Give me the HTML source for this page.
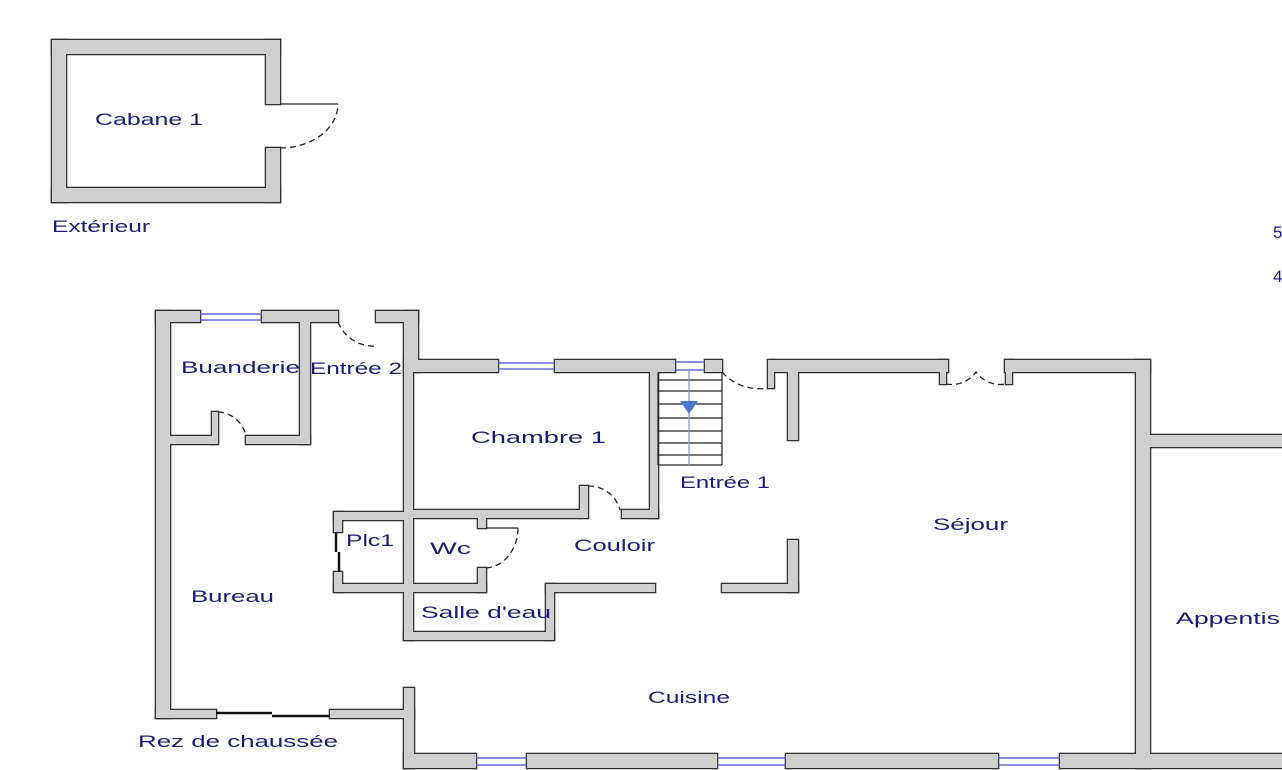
<!DOCTYPE html>
<html><head><meta charset="utf-8"><style>
html,body{margin:0;padding:0;background:#fff;width:1282px;height:770px;overflow:hidden}
svg{display:block}
text{font-family:"Liberation Sans",sans-serif;font-size:17px;fill:#1c1c7a}
</style></head><body>
<svg width="1282" height="770" viewBox="0 0 1282 770" xmlns="http://www.w3.org/2000/svg">
<defs>
<g id="walls">
<rect x="52" y="40" width="228" height="14"/>
<rect x="52" y="188" width="228" height="14"/>
<rect x="52" y="40" width="14" height="162"/>
<rect x="266" y="40" width="14" height="64"/>
<rect x="266" y="148" width="14" height="54"/>
<rect x="156" y="311" width="14" height="407"/>
<rect x="156" y="311" width="44" height="11"/>
<rect x="262" y="311" width="76" height="11"/>
<rect x="376" y="311" width="42" height="11"/>
<rect x="404" y="311" width="14" height="61"/>
<rect x="300" y="322" width="10" height="122"/>
<rect x="170" y="436" width="44" height="8"/>
<rect x="246" y="436" width="64" height="8"/>
<rect x="212" y="412" width="6" height="32"/>
<rect x="404" y="372" width="9" height="268"/>
<rect x="404" y="360" width="94" height="12"/>
<rect x="555" y="360" width="120" height="12"/>
<rect x="705" y="360" width="17" height="12"/>
<rect x="772" y="360" width="176" height="12"/>
<rect x="1005" y="360" width="145" height="12"/>
<rect x="768" y="360" width="6" height="28"/>
<rect x="940" y="360" width="6" height="24"/>
<rect x="1006" y="360" width="6" height="24"/>
<rect x="788" y="372" width="10" height="68"/>
<rect x="1136" y="360" width="14" height="408"/>
<rect x="1150" y="435" width="132" height="12"/>
<rect x="650" y="372" width="8" height="146"/>
<rect x="412" y="510" width="168" height="8"/>
<rect x="622" y="510" width="36" height="8"/>
<rect x="580" y="486" width="8" height="32"/>
<rect x="334" y="512" width="78" height="8"/>
<rect x="334" y="584" width="78" height="8"/>
<rect x="334" y="512" width="8" height="20"/>
<rect x="334" y="572" width="8" height="20"/>
<rect x="478" y="518" width="8" height="10"/>
<rect x="478" y="568" width="8" height="24"/>
<rect x="412" y="584" width="74" height="8"/>
<rect x="546" y="584" width="109" height="8"/>
<rect x="546" y="584" width="8" height="56"/>
<rect x="404" y="632" width="150" height="8"/>
<rect x="722" y="584" width="76" height="8"/>
<rect x="788" y="540" width="10" height="52"/>
<rect x="156" y="710" width="60" height="8"/>
<rect x="330" y="710" width="84" height="8"/>
<rect x="404" y="688" width="10" height="80"/>
<rect x="404" y="754" width="72" height="14"/>
<rect x="527" y="754" width="190" height="14"/>
<rect x="786" y="754" width="212" height="14"/>
<rect x="1060" y="754" width="222" height="14"/>
</g>
</defs>
<use href="#walls" fill="#333" stroke="#333" stroke-width="2.6"/>
<use href="#walls" fill="#cfcfcf"/>
<g stroke="#4a4ad0" stroke-width="1.3">
<line x1="200" y1="314" x2="262" y2="314"/><line x1="200" y1="320" x2="262" y2="320"/>
<line x1="498" y1="363" x2="555" y2="363"/><line x1="498" y1="369" x2="555" y2="369"/>
<line x1="675" y1="362" x2="705" y2="362"/><line x1="675" y1="370" x2="705" y2="370"/>
<line x1="476" y1="758" x2="527" y2="758"/><line x1="476" y1="765" x2="527" y2="765"/>
<line x1="717" y1="758" x2="786" y2="758"/><line x1="717" y1="765" x2="786" y2="765"/>
<line x1="998" y1="758" x2="1060" y2="758"/><line x1="998" y1="765" x2="1060" y2="765"/>
</g>
<g stroke="#111" stroke-width="2.5">
<line x1="216" y1="713" x2="272" y2="713"/><line x1="272" y1="716" x2="330" y2="716"/>
<line x1="336" y1="532" x2="336" y2="552"/><line x1="339" y1="552" x2="339" y2="572"/>
</g>
<g fill="none" stroke="#222" stroke-width="1.3" stroke-dasharray="6,4">
<path d="M280 148 A58 44 0 0 0 338 104"/>
<path d="M338 322 A38 38 0 0 0 376 346"/>
<path d="M218 412 A30 30 0 0 1 246 436"/>
<path d="M722 372 A50 50 0 0 0 768 388"/>
<path d="M946 384 A30 30 0 0 0 976 372 A30 30 0 0 0 1006 384"/>
<path d="M588 486 A32 32 0 0 1 620 510"/>
<path d="M486 568 A34 40 0 0 0 518 528"/>
</g>
<g stroke="#222" stroke-width="1.3">
<line x1="280" y1="104" x2="338" y2="104"/>
<line x1="486" y1="528" x2="518" y2="528"/>
</g>
<g stroke="#222" stroke-width="1.2">
<line x1="658" y1="372" x2="658" y2="465"/><line x1="722" y1="372" x2="722" y2="465"/>
<line x1="658" y1="380" x2="722" y2="380"/><line x1="658" y1="391" x2="722" y2="391"/>
<line x1="658" y1="404" x2="722" y2="404"/><line x1="658" y1="418" x2="722" y2="418"/>
<line x1="658" y1="431" x2="722" y2="431"/><line x1="658" y1="443" x2="722" y2="443"/>
<line x1="658" y1="455" x2="722" y2="455"/><line x1="658" y1="465" x2="722" y2="465"/>
</g>
<line x1="689" y1="370" x2="689" y2="465" stroke="#7a9ad8" stroke-width="1.3"/>
<polygon points="680,401 698,401 689,414" fill="#4a78d0"/>
<g lengthAdjust="spacingAndGlyphs">
<text x="95" y="125" textLength="108" lengthAdjust="spacingAndGlyphs">Cabane 1</text>
<text x="52" y="232" textLength="98" lengthAdjust="spacingAndGlyphs">Extérieur</text>
<text x="181" y="373" textLength="119" lengthAdjust="spacingAndGlyphs">Buanderie</text>
<text x="310" y="374" textLength="92" lengthAdjust="spacingAndGlyphs">Entrée 2</text>
<text x="471" y="443" textLength="135" lengthAdjust="spacingAndGlyphs">Chambre 1</text>
<text x="680" y="488" textLength="90" lengthAdjust="spacingAndGlyphs">Entrée 1</text>
<text x="933" y="530" textLength="75" lengthAdjust="spacingAndGlyphs">Séjour</text>
<text x="346" y="546" textLength="48" lengthAdjust="spacingAndGlyphs">Plc1</text>
<text x="430" y="554" textLength="41" lengthAdjust="spacingAndGlyphs">Wc</text>
<text x="574" y="551" textLength="81" lengthAdjust="spacingAndGlyphs">Couloir</text>
<text x="191" y="602" textLength="83" lengthAdjust="spacingAndGlyphs">Bureau</text>
<text x="421" y="618" textLength="130" lengthAdjust="spacingAndGlyphs">Salle d'eau</text>
<text x="1176" y="624" textLength="104" lengthAdjust="spacingAndGlyphs">Appentis</text>
<text x="648" y="703" textLength="82" lengthAdjust="spacingAndGlyphs">Cuisine</text>
<text x="138" y="747" textLength="200" lengthAdjust="spacingAndGlyphs">Rez de chaussée</text>
</g>
<text x="1273" y="238" font-size="14" fill="#222">5</text>
<text x="1273" y="282" font-size="14" fill="#222">4</text>
</svg>
</body></html>
